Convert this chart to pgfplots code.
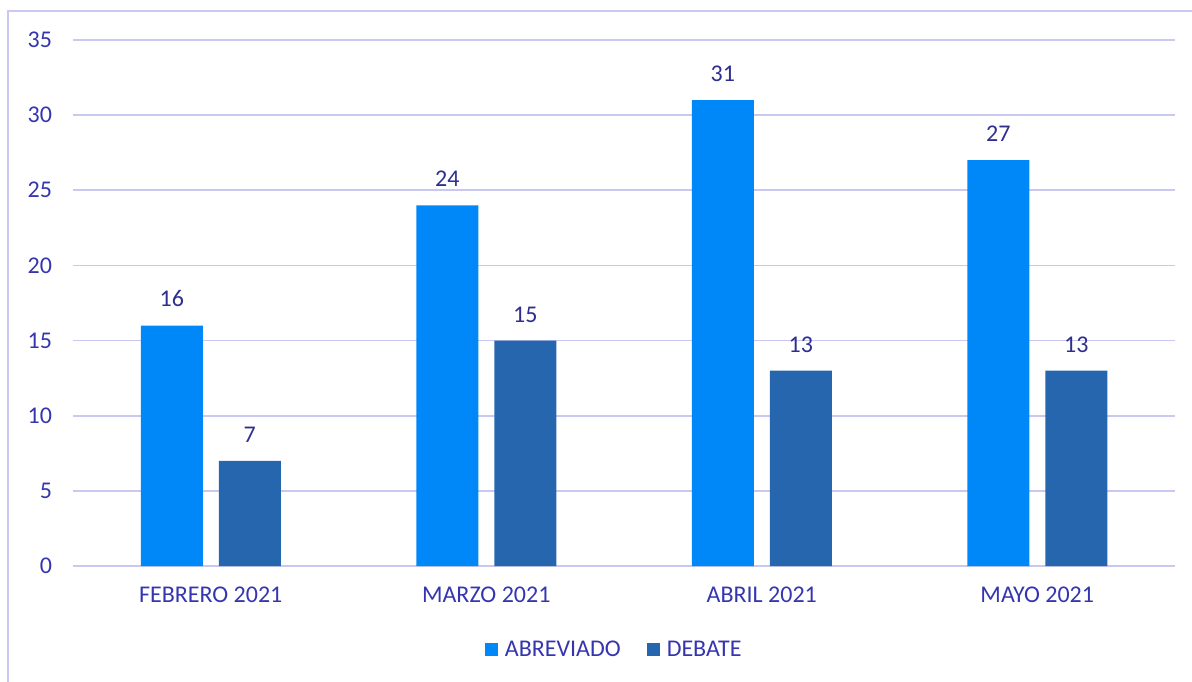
\documentclass[border=0pt]{standalone}
\usepackage{pgfplots}
\pgfplotsset{compat=1.18}
\usepackage{fontspec}
\setmainfont{Carlito}
\definecolor{barA}{HTML}{0088F8}
\definecolor{barB}{HTML}{2566AE}
\definecolor{tickc}{HTML}{3535B0}
\definecolor{labc}{HTML}{2E2E90}
\definecolor{gridc}{HTML}{C8C8F0}
\begin{document}
\begin{tikzpicture}
\useasboundingbox (0,0) rectangle (596pt,340.5pt);
\draw[gridc, line width=0.8pt] (4pt,-2pt) -- (4pt,335pt) -- (600pt,335pt);
\begin{axis}[
  at={(36.5pt,57.5pt)}, anchor=south west,
  scale only axis, width=551pt, height=263pt,
  ybar=8pt, bar width=31pt,
  xmin=-0.5, xmax=3.5, ymin=0, ymax=35,
  xtick=data,
  xticklabels={FEBRERO 2021, MARZO 2021, ABRIL 2021, MAYO 2021},
  ytick={0,5,...,35},
  axis line style={draw=none},
  major tick length=0pt,
  ymajorgrids, grid style={gridc, line width=0.85pt},
  /pgf/number format/assume math mode=true,
  ticklabel style={font=\fontsize{12}{14}\selectfont, text=tickc},
  yticklabel style={xshift=-7pt},
  xticklabel style={yshift=-7pt},
  nodes near coords,
  nodes near coords style={font=\fontsize{12}{14}\selectfont, text=labc, anchor=south, inner sep=0pt, yshift=9pt},
  every axis plot/.append style={draw=none},
  legend image code/.code={\fill[#1] (0pt,-3pt) rectangle (6.5pt,3.5pt);},
  legend style={at={(0.492,-0.16)}, anchor=center, draw=none, fill=none,
    font=\fontsize{12}{14}\selectfont, text=tickc,
    /tikz/every odd column/.append style={column sep=1.5pt},
    /tikz/every even column/.append style={column sep=11pt}},
  legend columns=2,
  clip=false,
]
\addplot[fill=barA, draw=none] coordinates {(0,16) (1,24) (2,31) (3,27)};
\addplot[fill=barB, draw=none] coordinates {(0,7) (1,15) (2,13) (3,13)};
\legend{ABREVIADO, DEBATE}
\end{axis}
\end{tikzpicture}
\end{document}
